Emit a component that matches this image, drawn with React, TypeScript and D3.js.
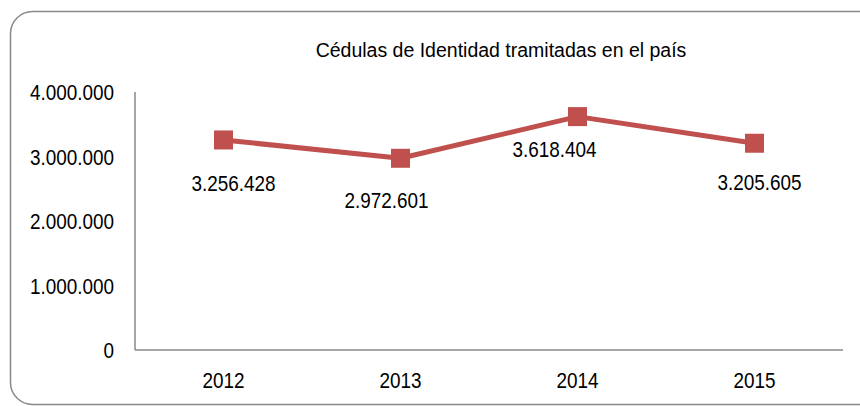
import React from "react";
import * as d3 from "d3";

const years = ["2012", "2013", "2014", "2015"];
const values = [3256428, 2972601, 3618404, 3205605];
const yTicks = [0, 1000000, 2000000, 3000000, 4000000];
const title = "Cédulas de Identidad tramitadas en el país";

const W = 860;
const H = 406;
const left = 135;
const right = 843;
const top = 92;
const bottom = 350;
const color = "#C0504D";
const font = "'Liberation Sans', Arial, sans-serif";
const labelDx = [10, -14, -23, 5];
const labelDy = [51, 50, 40, 47];
const FS = 22;
const SX = 0.86;

const fmt = (v: number) => v.toLocaleString("en-US").replace(/,/g, ".");

function T({ x, y, anchor, children, fs = FS, sx = SX }: any) {
  return (
    <text
      transform={`translate(${x},${y}) scale(${sx},1)`}
      textAnchor={anchor}
      fontSize={fs}
      fill="#000"
    >
      {children}
    </text>
  );
}

export default function App() {
  const x = d3.scaleBand<string>().domain(years).range([left, right]);
  const y = d3.scaleLinear().domain([0, 4000000]).range([bottom, top]);
  const cx = (yr: string) => (x(yr) as number) + x.bandwidth() / 2;
  const line = d3
    .line<number>()
    .x((_, i) => cx(years[i]))
    .y((v) => y(v));
  const ms = 19;
  return (
    <svg
      width={W}
      height={H}
      style={{ position: "absolute", left: 0, top: 0, background: "#fff" }}
      fontFamily={font}
    >
      <rect x={10.5} y={11.5} width={870} height={393} rx={22} ry={22} fill="#fff" stroke="#888" strokeWidth={1.5} />
      <T x={501} y={56.5} anchor="middle" fs={19.5} sx={1}>
        {title}
      </T>
      <line x1={left} x2={left} y1={top} y2={bottom} stroke="#888" strokeWidth={1.5} />
      <line x1={left} x2={right} y1={bottom} y2={bottom} stroke="#888" strokeWidth={1.5} />
      {yTicks.map((t) => (
        <T key={t} x={114} y={y(t) + 8} anchor="end">
          {fmt(t)}
        </T>
      ))}
      {years.map((yr) => (
        <T key={yr} x={cx(yr)} y={bottom + 38} anchor="middle">
          {yr}
        </T>
      ))}
      <path d={line(values) || ""} fill="none" stroke={color} strokeWidth={5} strokeLinejoin="round" />
      {values.map((v, i) => (
        <rect key={i} x={cx(years[i]) - ms / 2} y={y(v) - ms / 2} width={ms} height={ms} fill={color} />
      ))}
      {values.map((v, i) => (
        <T key={"l" + i} x={cx(years[i]) + labelDx[i]} y={y(v) + labelDy[i]} anchor="middle">
          {fmt(v)}
        </T>
      ))}
    </svg>
  );
}
